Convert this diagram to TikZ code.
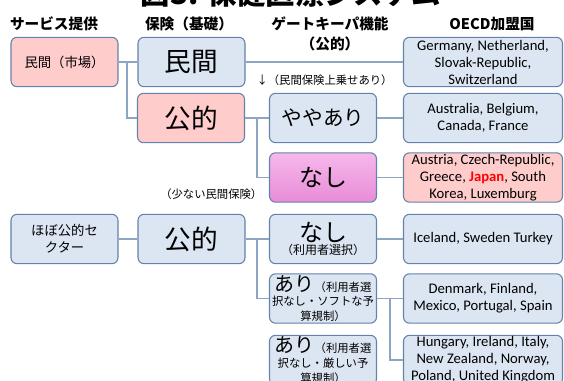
\documentclass[tikz,border=0pt]{standalone}
\usepackage{fontspec}
\setmainfont{Carlito}
\newfontfamily\jp{Noto Sans CJK JP}
\usepackage{tikz}
\definecolor{boxline}{RGB}{100,130,170}
\definecolor{linkline}{RGB}{140,165,195}
\definecolor{boxblue}{RGB}{220,230,242}
\definecolor{boxpink}{RGB}{255,204,204}
\definecolor{magtop}{RGB}{246,184,236}
\definecolor{magbot}{RGB}{232,140,214}
\def\jap{\textcolor{red}{\textbf{Japan}}}

\begin{document}
\begin{tikzpicture}[x=0.75pt,y=-0.75pt,
  box/.style={draw=boxline,line width=0.8pt,rounded corners=4.5pt,align=center,
              minimum width=80.25pt,minimum height=37pt,inner sep=1pt},
  bluebox/.style={box,fill=boxblue},
  pinkbox/.style={box,fill=boxpink},
  magbox/.style={box,top color=magtop,bottom color=magbot},
  oecd/.style={bluebox,minimum width=119.25pt,font=\fontsize{11}{12.75}\selectfont},
  head/.style={font=\jp\bfseries\fontsize{11}{14}\selectfont},
  note/.style={font=\jp\fontsize{8.5}{10}\selectfont},
  link/.style={draw=linkline,line width=0.8pt}]

\clip (0,0) rectangle (564,381);

          \node [anchor=base] at (291,5) (title) {\jp\bfseries\fontsize{22}{26}\selectfont 図3. 保健医療システム};
%
          \node [head] at (54,24) (h1) {サービス提供};
          \node [head] at (189,24) (h2) {保険（基礎）};
          \node [head] at (330,24) (h3) {ゲートキーパ機能};
          \node [head] at (330,44) (h3b) {（公的）};
          \node [head] at (492,24) (h4) {OECD加盟国};
%
          \node [pinkbox,font=\jp\fontsize{10}{13}\selectfont] at (64.5,62) (shijo) {民間（市場）};
          \node [bluebox,font=\jp\fontsize{10}{12.75}\selectfont] at (64.5,239) (hobo) {ほぼ公的セ\\クター};
%
          \node [bluebox,font=\jp\fontsize{20}{24}\selectfont] at (191.5,62) (minkan) {民間};
          \node [pinkbox,font=\jp\fontsize{20}{24}\selectfont] at (191,118) (koteki1) {公的};
          \node [bluebox,font=\jp\fontsize{20}{24}\selectfont] at (191.5,239) (koteki2) {公的};
%
          \node [bluebox,font=\jp\fontsize{15.5}{18}\selectfont] at (323,118) (yaya) {ややあり};
          \node [magbox,font=\jp\fontsize{18}{22}\selectfont] at (323,177.5) (nashi1) {なし};
          \node [bluebox,font=\jp\fontsize{9}{11}\selectfont] at (323,239) (nashi2) {{\fontsize{18}{20}\selectfont なし}\\[-1pt]（利用者選択）};
          \node [bluebox,font=\jp\fontsize{8.5}{11}\selectfont] at (323,298.5) (ari1) {{\fontsize{15}{16}\selectfont あり}（利用者選\\択なし・ソフトな予\\算規制）};
          \node [bluebox,font=\jp\fontsize{8.5}{11}\selectfont] at (323,360) (ari2) {{\fontsize{15}{16}\selectfont あり}（利用者選\\択なし・厳しい予\\算規制）};
%
          \node [oecd] at (483,62) (oecd1) {Germany, Netherland,\\Slovak-Republic,\\Switzerland};
          \node [oecd] at (483,118) (oecd2) {Australia, Belgium,\\Canada, France};
          \node [oecd,fill=boxpink] at (483,177.5) (oecd3) {Austria, Czech-Republic,\\Greece, \jap, South\\Korea, Luxemburg};
          \node [oecd] at (483,239) (oecd4) {Iceland, Sweden Turkey};
          \node [oecd] at (483,298.5) (oecd5) {Denmark, Finland,\\Mexico, Portugal, Spain};
          \node [oecd] at (483,360) (oecd6) {Hungary, Ireland, Italy,\\New Zealand, Norway,\\Poland, United Kingdom};
%
          \node [note] at (324.5,80) (uwanose) {↓（民間保険上乗せあり）};
          \node [note,anchor=east] at (267,194) (sukunai) {（少ない民間保険）};
%
\coordinate (j1) at (127,62);
\coordinate (j2) at (257,118);
\coordinate (j3) at (257,239);
\coordinate (j4) at (390,298.5);
%
\path[link] (shijo.east) edge (minkan.west);
\path[link] (j1) edge [to path={|- (\tikztotarget)}] (koteki1.west);
\path[link] (minkan.east) edge (oecd1.west);
\path[link] (koteki1.east) edge (yaya.west);
\path[link] (j2) edge [to path={|- (\tikztotarget)}] (nashi1.west);
\path[link] (yaya.east) edge (oecd2.west);
\path[link] (nashi1.east) edge (oecd3.west);
\path[link] (hobo.east) edge (koteki2.west);
\path[link] (koteki2.east) edge (nashi2.west);
\path[link] (j3) edge [to path={|- (\tikztotarget)}] (ari1.west);
\path[link] (nashi2.east) edge (oecd4.west);
\path[link] (ari1.east) edge (oecd5.west);
\path[link] (j4) edge [to path={|- (\tikztotarget)}] (oecd6.west);

\end{tikzpicture}
\end{document}
